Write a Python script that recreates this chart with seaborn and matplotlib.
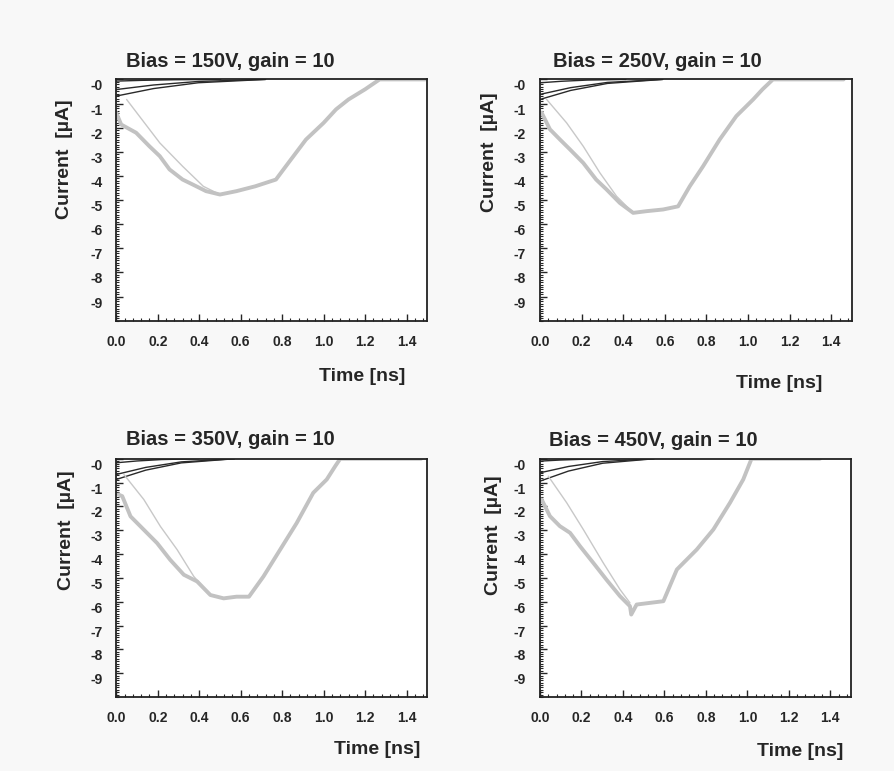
import numpy as np
import pandas as pd
import seaborn as sns
import matplotlib.pyplot as plt
from matplotlib.ticker import MultipleLocator, FixedLocator

sns.set_style('ticks')
plt.rcParams['font.family'] = ['Liberation Sans', 'DejaVu Sans']
plt.rcParams['font.weight'] = 'bold'

biases = ['150V', '250V', '350V', '450V']
gain = 10

# main (thick grey) pulse per bias
main_x = [
    [0.0, 0.024, 0.096, 0.16, 0.21, 0.257, 0.32, 0.37, 0.433, 0.50, 0.58, 0.67, 0.77, 0.83, 0.915, 1.0, 1.06, 1.12, 1.2, 1.27, 1.49],
    [0.008, 0.048, 0.096, 0.144, 0.208, 0.27, 0.32, 0.384, 0.448, 0.512, 0.592, 0.664, 0.72, 0.784, 0.864, 0.944, 1.025, 1.07, 1.12, 1.46],
    [0.01, 0.029, 0.069, 0.133, 0.197, 0.26, 0.326, 0.39, 0.454, 0.518, 0.58, 0.64, 0.71, 0.79, 0.87, 0.95, 1.015, 1.056, 1.08, 1.47],
    [0.008, 0.048, 0.096, 0.145, 0.193, 0.257, 0.32, 0.386, 0.434, 0.44, 0.466, 0.53, 0.595, 0.66, 0.756, 0.836, 0.916, 0.98, 1.02, 1.35],
]
main_y = [
    [-1.38, -1.87, -2.21, -2.77, -3.18, -3.73, -4.15, -4.36, -4.63, -4.77, -4.63, -4.43, -4.15, -3.46, -2.49, -1.80, -1.24, -0.83, -0.41, 0.0, 0.0],
    [-1.38, -2.07, -2.49, -2.90, -3.46, -4.15, -4.56, -5.12, -5.53, -5.46, -5.39, -5.26, -4.43, -3.60, -2.49, -1.52, -0.83, -0.41, 0.0, 0.0],
    [-1.5, -1.57, -2.42, -2.98, -3.54, -4.24, -4.87, -5.15, -5.72, -5.86, -5.79, -5.79, -4.94, -3.82, -2.70, -1.43, -0.87, -0.31, 0.0, 0.0],
    [-1.71, -2.41, -2.83, -3.11, -3.67, -4.37, -5.07, -5.77, -6.19, -6.54, -6.12, -6.05, -5.98, -4.65, -3.81, -2.97, -1.85, -0.87, 0.0, 0.0],
]

# thin grey component
thin_x = [
    [0.05, 0.21, 0.32, 0.42, 0.50],
    [0.032, 0.128, 0.208, 0.288, 0.368, 0.448],
    [0.037, 0.133, 0.213, 0.294, 0.374, 0.454],
    [0.04, 0.129, 0.209, 0.305, 0.386, 0.434],
]
thin_y = [
    [-0.83, -2.63, -3.60, -4.43, -4.77],
    [-0.83, -1.80, -2.77, -3.87, -4.84, -5.53],
    [-0.66, -1.71, -2.84, -3.82, -4.94, -5.72],
    [-0.73, -1.85, -2.97, -4.37, -5.49, -6.05],
]

# dark components: start values at t=0 and end time where they reach 0
dark_start = [
    [-0.07, -0.42, -0.69],
    [-0.14, -0.62, -0.83],
    [-0.17, -0.66, -0.87],
    [-0.10, -0.59, -0.94],
]
dark_end = [0.72, 0.59, 0.57, 0.55]

axes_pos = [
    [0.130, 0.584, 0.348, 0.313],
    [0.604, 0.584, 0.349, 0.313],
    [0.130, 0.096, 0.348, 0.309],
    [0.604, 0.096, 0.348, 0.309],
]
xlabel_pos = [(0.929, -0.195), (0.904, -0.224), (0.977, -0.185), (0.974, -0.193)]
ylabel_pos = [(-0.138, 0.67), (-0.135, 0.70), (-0.132, 0.70), (-0.122, 0.68)]
title_pos = [(0.032, 1.075), (0.042, 1.075), (0.030, 1.08), (0.029, 1.076)]

fig = plt.figure(figsize=(8.94, 7.71), dpi=100)
fig.patch.set_facecolor('#f8f8f8')

for i in range(4):
    ax = fig.add_axes(axes_pos[i])
    ax.set_facecolor('white')

    for s in dark_start[i]:
        e = dark_end[i] if s < -0.3 else dark_end[i] * 0.7
        xs = [0.0, e * 0.25, e * 0.55, e]
        ys = [s, s * 0.55, s * 0.2, 0.0]
        sns.lineplot(x=xs, y=ys, ax=ax, sort=False, color='#2a2a2a', linewidth=1.0, estimator=None)

    sns.lineplot(x=thin_x[i], y=thin_y[i], ax=ax, sort=False, color='#c8c8c8',
                 linewidth=1.0, estimator=None)
    sns.lineplot(x=main_x[i], y=main_y[i], ax=ax, sort=False, color='#c2c2c2',
                 linewidth=2.8, estimator=None)

    ax.set_xlim(0, 1.5)
    ax.set_ylim(-10, 0)
    ax.xaxis.set_major_locator(FixedLocator([0.0, 0.2, 0.4, 0.6, 0.8, 1.0, 1.2, 1.4]))
    ax.xaxis.set_minor_locator(MultipleLocator(0.04))
    ax.yaxis.set_major_locator(MultipleLocator(1))
    ax.yaxis.set_minor_locator(MultipleLocator(0.1))
    ax.set_xticklabels(['0.0', '0.2', '0.4', '0.6', '0.8', '1.0', '1.2', '1.4'])
    ax.set_yticks(np.arange(0, -10, -1))
    ax.set_yticklabels(['-0', '-1', '-2', '-3', '-4', '-5', '-6', '-7', '-8', '-9'])
    for lbl in ax.get_yticklabels():
        lbl.set_va('top')
    ax.tick_params(axis='both', which='major', direction='in', length=5, width=1,
                   labelsize=10, top=False, right=False)
    ax.tick_params(axis='x', which='major', pad=10)
    ax.tick_params(axis='y', which='major', pad=10)
    ax.tick_params(axis='both', which='minor', direction='in', length=2.5, width=0.8)
    for sp in ax.spines.values():
        sp.set_linewidth(1.3)
        sp.set_color('#222222')

    ax.set_xlabel('Time [ns]', fontsize=14, fontweight='bold', ha='right')
    ax.xaxis.set_label_coords(*xlabel_pos[i])
    ax.set_ylabel('Current  [\u00b5A]', fontsize=14, fontweight='bold')
    ax.yaxis.set_label_coords(*ylabel_pos[i])
    ax.text(title_pos[i][0], title_pos[i][1], f'Bias = {biases[i]}, gain = {gain}',
            transform=ax.transAxes, fontsize=14.5, fontweight='bold', va='center', ha='left')

fig.savefig('out.png', dpi=100, facecolor=fig.get_facecolor())
